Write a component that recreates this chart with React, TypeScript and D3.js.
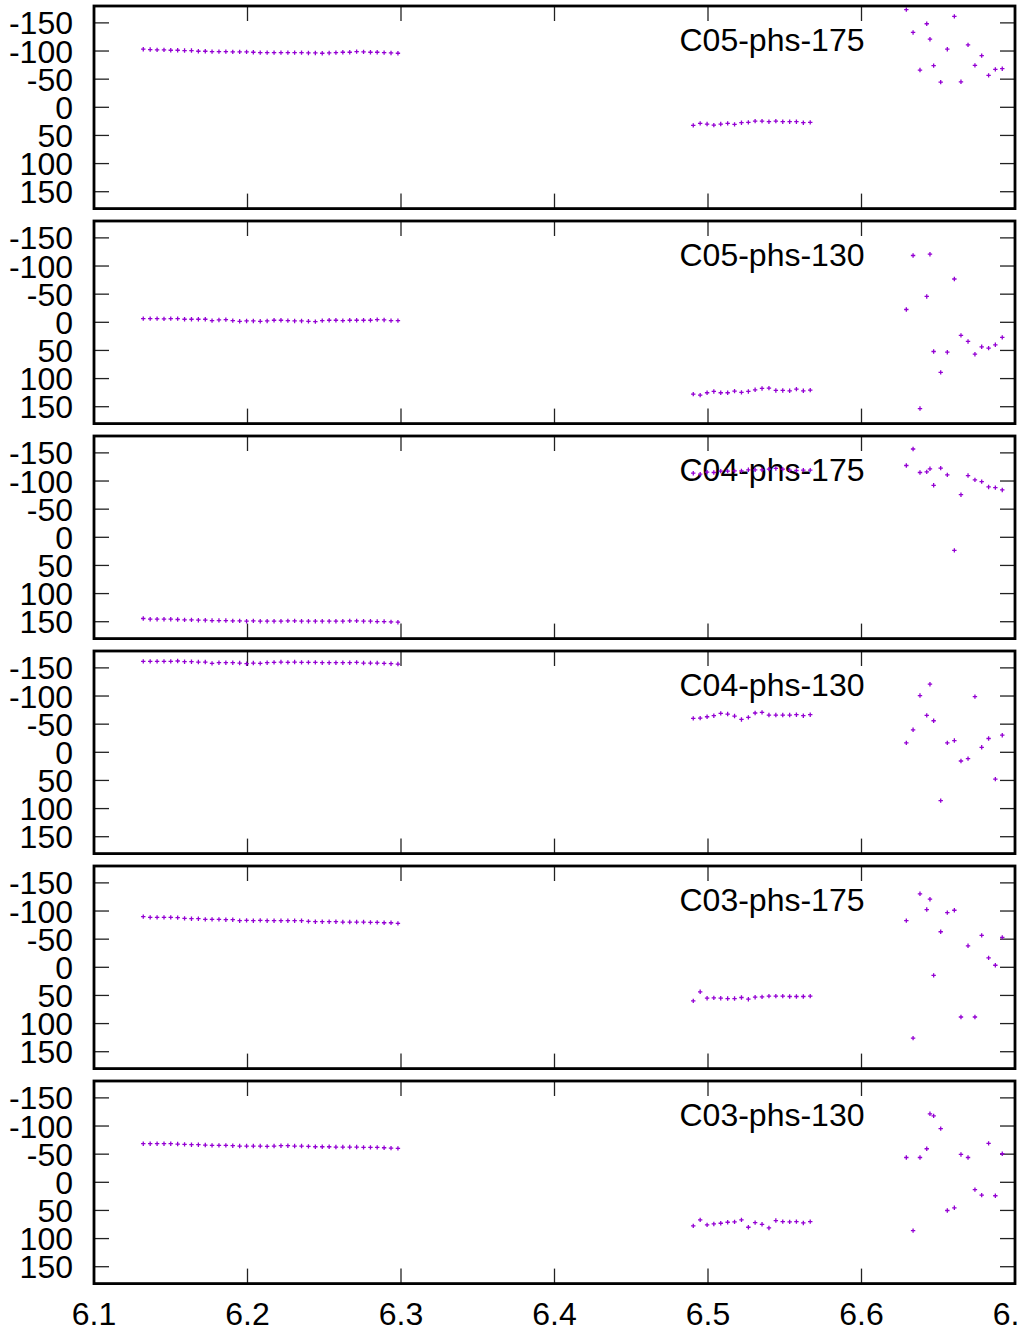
import React from "react";
import * as d3 from "d3";

// ---- data ----
const panelNames = ["C05-phs-175", "C05-phs-130", "C04-phs-175", "C04-phs-130", "C03-phs-175", "C03-phs-130"];
const xTicks = [6.1, 6.2, 6.3, 6.4, 6.5, 6.6, 6.7];
const yTicks = [-150, -100, -50, 0, 50, 100, 150];

const xA = [6.1321, 6.1366, 6.1411, 6.1456, 6.15, 6.1545, 6.159, 6.1635, 6.168, 6.1725, 6.1769, 6.1814, 6.1859, 6.1904, 6.1949, 6.1994, 6.2038, 6.2083, 6.2128, 6.2173, 6.2218, 6.2263, 6.2307, 6.2352, 6.2397, 6.2442, 6.2487, 6.2532, 6.2576, 6.2621, 6.2666, 6.2711, 6.2756, 6.2801, 6.2845, 6.289, 6.2935, 6.298];
const xB = [6.4904, 6.4949, 6.4994, 6.5038, 6.5083, 6.5128, 6.5173, 6.5218, 6.5263, 6.5307, 6.5352, 6.5397, 6.5442, 6.5487, 6.5532, 6.5576, 6.5621, 6.5666];
const xC = [6.6292, 6.6336, 6.6381, 6.6425, 6.6446, 6.647, 6.6516, 6.6559, 6.6605, 6.6648, 6.6694, 6.6739, 6.6783, 6.6828, 6.6872, 6.6917];

const c05p175A = [-103.2, -102.6, -102.0, -102.0, -101.4, -101.4, -100.8, -100.8, -99.6, -99.6, -99.0, -99.0, -99.0, -98.4, -98.4, -98.4, -97.8, -97.2, -97.2, -97.2, -97.2, -97.2, -97.2, -97.2, -96.6, -96.6, -96.0, -96.6, -97.2, -97.8, -97.8, -99.0, -98.4, -97.8, -97.8, -97.2, -96.6, -96.0];
const c05p175B = [32.2, 28.6, 29.8, 31.6, 29.8, 28.6, 30.4, 27.4, 26.8, 24.5, 24.5, 25.6, 24.5, 25.6, 25.6, 25.6, 27.4, 26.8];
const c05p175C = [-173.6, -133, -66.2, -148.5, -121, -74, -44.7, -103.2, -161.6, -45.3, -111, -74.5, -91.8, -56.7, -67.4, -68.6];

const c05p130A = [-6.6, -6.6, -6.6, -6.0, -6.6, -6.6, -5.4, -5.4, -5.4, -5.4, -3.0, -4.2, -4.8, -3.0, -1.8, -2.4, -2.4, -1.8, -2.4, -3.6, -3.6, -3.0, -2.4, -2.4, -1.8, -1.2, -3.0, -3.6, -3.6, -3.0, -3.6, -3.6, -3.6, -3.6, -4.8, -4.2, -3.0, -3.0];
const c05p130B = [127.6, 129.4, 125.2, 122.9, 125.2, 125.2, 122.3, 124.6, 122.9, 119.9, 117.5, 116.9, 121.1, 121.1, 121.7, 118.7, 121.7, 120.5];
const c05p130C = [-22.7, -118.7, 153.3, -45.9, -121, 51.9, 88.9, 53.1, -76.9, 23.3, 34, 56.7, 43.5, 45.9, 40, 26.8];

const c04p175A = [144.3, 145.5, 145.5, 145.5, 145.5, 146.1, 146.7, 146.7, 147.3, 147.3, 147.9, 147.9, 147.9, 148.5, 148.5, 149.1, 148.5, 149.1, 149.1, 149.1, 149.1, 148.5, 148.5, 149.1, 149.1, 149.1, 149.1, 149.1, 149.1, 149.1, 148.5, 148.5, 149.1, 149.1, 149.7, 149.7, 150.3, 150.9];
const c04p175B = [-113.9, -112.1, -115.7, -115.1, -117.5, -117.5, -118.1, -118.1, -119.9, -119.9, -119.9, -121.1, -122.3, -121.1, -119.3, -118.7, -119.3, -119.3];
const c04p175C = [-127.6, -156.9, -115.1, -116.3, -121.7, -92.4, -122.9, -110.9, 23.3, -75.7, -109.7, -102, -99, -89.5, -88.3, -84.1];

const c04p130A = [-161.6, -161.6, -161.6, -161.6, -161.6, -162.2, -161.0, -161.0, -160.4, -160.4, -158.0, -159.2, -159.2, -159.2, -158.6, -157.4, -158.6, -158.0, -159.2, -159.8, -160.4, -159.8, -160.4, -159.8, -159.8, -159.8, -159.2, -159.2, -159.2, -159.2, -159.2, -159.8, -158.6, -158.6, -158.6, -158.0, -157.4, -156.8];
const c04p130B = [-60.2, -60.8, -63.2, -65, -69.2, -68, -64.4, -58.4, -62, -69.8, -71, -66.2, -66.2, -66.2, -66.2, -66.8, -65, -66.8];
const c04p130C = [-16.7, -40, -100.8, -65.6, -121, -56.1, 85.9, -16.7, -20.9, 15.5, 11.3, -99, -8.9, -24.5, 47.7, -30.4];

const c03p175A = [-90.0, -88.8, -88.8, -88.8, -88.8, -88.2, -87.0, -86.4, -86.4, -85.2, -85.2, -85.2, -84.6, -84.6, -82.8, -83.4, -82.8, -83.4, -82.8, -82.8, -82.8, -82.8, -82.8, -82.8, -81.6, -81.0, -81.0, -81.0, -81.0, -80.4, -80.4, -80.4, -80.4, -79.8, -79.8, -79.2, -79.2, -78.1];
const c03p175B = [59.6, 43.5, 54.9, 54.3, 54.9, 55.5, 55.5, 53.7, 56.7, 53.1, 52.5, 51.3, 51.3, 51.3, 51.9, 51.9, 51.9, 51.3];
const c03p175C = [-82.9, 125.8, -130.6, -102.6, -121, 14.3, -63.2, -97.2, -101.4, 88.3, -38.2, 88.3, -56.7, -16.7, -3.6, -53.1];

const c03p130A = [-68.6, -68.6, -68.6, -68.6, -68.6, -68.0, -67.4, -66.8, -66.8, -66.2, -65.6, -65.6, -65.6, -65.0, -64.4, -64.4, -64.4, -64.4, -63.8, -64.4, -65.0, -65.0, -64.4, -64.4, -63.8, -63.2, -63.2, -63.2, -62.6, -62.6, -62.6, -62.6, -62.0, -62.0, -62.0, -61.4, -60.8, -60.2];
const c03p130B = [77.5, 66.8, 75.7, 74, 72.8, 71, 70.4, 66.8, 79.9, 71.6, 74.6, 81.1, 68, 69.8, 70.4, 69.8, 72.2, 69.8];
const c03p130C = [-44.1, 85.9, -44.1, -59.6, -121.7, -118.1, -95.4, 50.1, 45.3, -49.5, -44.1, 13.1, 22.7, -69.2, 23.9, -50.7];

const panelSeries = [
  [c05p175A, c05p175B, c05p175C],
  [c05p130A, c05p130B, c05p130C],
  [c04p175A, c04p175B, c04p175C],
  [c04p130A, c04p130B, c04p130C],
  [c03p175A, c03p175B, c03p175C],
  [c03p130A, c03p130B, c03p130C],
];
const clusterX = [xA, xB, xC];

// ---- layout ----
const W = 1017;
const H = 1332;
const LEFT = 94;
const RIGHT = 1015;
const TOP0 = 6;
const PANEL_STEP = 215;
const PANEL_H = 202.6;
const FONT = "'Liberation Sans', Arial, Helvetica, sans-serif";
const FS = 32;
const COLOR = "#9400d3";
const TICK = 15;

export default function App() {
  const x = d3.scaleLinear().domain([6.1, 6.7]).range([LEFT, RIGHT]);
  return (
    <svg width={W} height={H} style={{ position: "absolute", left: 0, top: 0, background: "#fff" }} fontFamily={FONT}>
      <rect x={0} y={0} width={W} height={H} fill="#fff" />
      {panelNames.map((name, pi) => {
        const top = TOP0 + PANEL_STEP * pi;
        const bottom = top + PANEL_H;
        const y = d3.scaleLinear().domain([-180, 180]).range([top, bottom]);
        const pts: [number, number][] = [];
        panelSeries[pi].forEach((vals, ci) => {
          vals.forEach((v, i) => pts.push([x(clusterX[ci][i]), y(v)]));
        });
        const plusPath = pts.map(([px, py]) => `M${px - 2.2},${py}H${px + 2.2}M${px},${py - 2.2}V${py + 2.2}`).join("");
        return (
          <g key={name}>
            {/* y ticks */}
            {yTicks.map((t) => (
              <g key={"y" + t}>
                <line x1={LEFT} x2={LEFT + TICK} y1={y(t)} y2={y(t)} stroke="#222" strokeWidth={1.3} />
                <line x1={RIGHT - TICK} x2={RIGHT} y1={y(t)} y2={y(t)} stroke="#222" strokeWidth={1.3} />
                <text x={73} y={y(t)} dy="0.36em" textAnchor="end" fontSize={FS} fill="#000">
                  {t}
                </text>
              </g>
            ))}
            {/* x ticks */}
            {xTicks.map((t) => (
              <g key={"x" + t}>
                <line x1={x(t)} x2={x(t)} y1={top} y2={top + TICK} stroke="#222" strokeWidth={1.3} />
                <line x1={x(t)} x2={x(t)} y1={bottom - TICK} y2={bottom} stroke="#222" strokeWidth={1.3} />
              </g>
            ))}
            {/* key */}
            <text x={864.5} y={top + 45} textAnchor="end" fontSize={FS} fill="#000">
              {name}
            </text>
            {/* points */}
            <path d={plusPath} stroke={COLOR} strokeWidth={1.3} fill="none" />
            {/* frame */}
            <rect x={LEFT} y={top} width={RIGHT - LEFT} height={PANEL_H} fill="none" stroke="#000" strokeWidth={2.8} />
          </g>
        );
      })}
      {xTicks.map((t) => (
        <text key={"xl" + t} x={x(t)} y={1325} textAnchor="middle" fontSize={FS} fill="#000">
          {t.toFixed(1)}
        </text>
      ))}
    </svg>
  );
}
